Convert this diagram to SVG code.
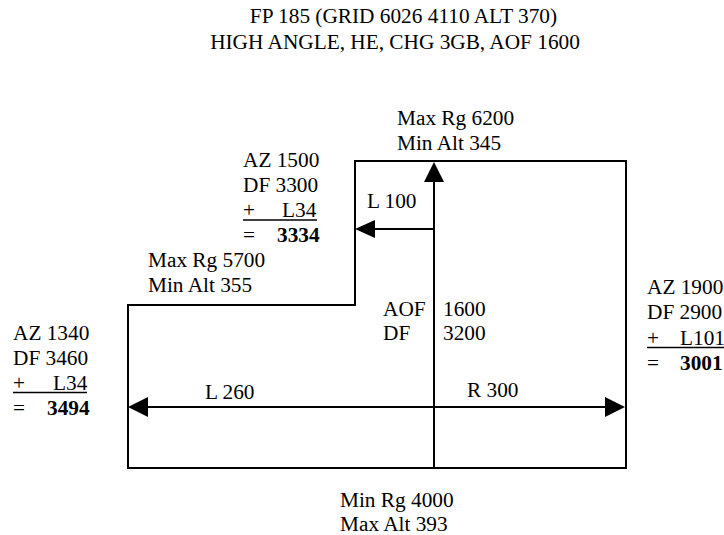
<svg xmlns="http://www.w3.org/2000/svg" width="724" height="535" viewBox="0 0 724 535">
<style>
text{font-family:'Liberation Serif','Times New Roman',Times,serif;font-size:21.3px;fill:#000}
.b{font-weight:bold}
.ln{stroke:#000;stroke-width:2;fill:none}
.ul{stroke:#000;stroke-width:1.5}
.ah{fill:#000;stroke:none}
</style>
<rect width="724" height="535" fill="#fff"/>
<g id="title">
<text x="403.5" y="23" text-anchor="middle">FP 185 (GRID 6026 4110 ALT 370)</text>
<text x="395" y="49" text-anchor="middle">HIGH ANGLE, HE, CHG 3GB, AOF 1600</text>
</g>
<g id="outline">
<polygon class="ln" points="355,161 626,161 626,468 128,468 128,305 355,305"/>
</g>
<g id="connectors">
<line class="ln" x1="434" y1="468" x2="434" y2="180"/>
<polygon class="ah" points="434,162 444,182 424,182"/>
<line class="ln" x1="434" y1="229" x2="373" y2="229"/>
<polygon class="ah" points="355,229 375,220 375,238"/>
<line class="ln" x1="146" y1="407" x2="607" y2="407"/>
<polygon class="ah" points="128,407 148,397 148,417"/>
<polygon class="ah" points="625,407 605,397 605,417"/>
</g>
<g id="top-label">
<text x="397" y="125">Max Rg 6200</text>
<text x="397" y="150">Min Alt 345</text>
</g>
<g id="az1500">
<text x="243" y="167">AZ 1500</text>
<text x="243" y="192">DF 3300</text>
<text x="243" y="217">+</text>
<text x="282" y="217">L34</text>
<line class="ul" x1="243" y1="220" x2="317" y2="220"/>
<text x="243" y="242">=</text>
<text x="277" y="242" class="b">3334</text>
</g>
<g id="l100">
<text x="367" y="208">L 100</text>
</g>
<g id="step-label">
<text x="148" y="267">Max Rg 5700</text>
<text x="148" y="292">Min Alt 355</text>
</g>
<g id="az1340">
<text x="13" y="340">AZ 1340</text>
<text x="13" y="365">DF 3460</text>
<text x="13" y="390">+</text>
<text x="53" y="390">L34</text>
<line class="ul" x1="13" y1="392.5" x2="87" y2="392.5"/>
<text x="13" y="415">=</text>
<text x="47" y="415" class="b">3494</text>
</g>
<g id="l260">
<text x="205" y="399">L 260</text>
</g>
<g id="aof">
<text x="383" y="316">AOF</text>
<text x="443" y="316">1600</text>
<text x="383" y="340">DF</text>
<text x="443" y="340">3200</text>
</g>
<g id="r300">
<text x="467" y="397">R 300</text>
</g>
<g id="az1900">
<text x="647" y="294">AZ 1900</text>
<text x="647" y="319">DF 2900</text>
<text x="647" y="345">+</text>
<text x="680" y="345">L101</text>
<line class="ul" x1="647" y1="347.5" x2="724" y2="347.5"/>
<text x="647" y="370">=</text>
<text x="680" y="370" class="b">3001</text>
</g>
<g id="bottom-label">
<text x="340" y="507">Min Rg 4000</text>
<text x="340" y="531">Max Alt 393</text>
</g>
</svg>
